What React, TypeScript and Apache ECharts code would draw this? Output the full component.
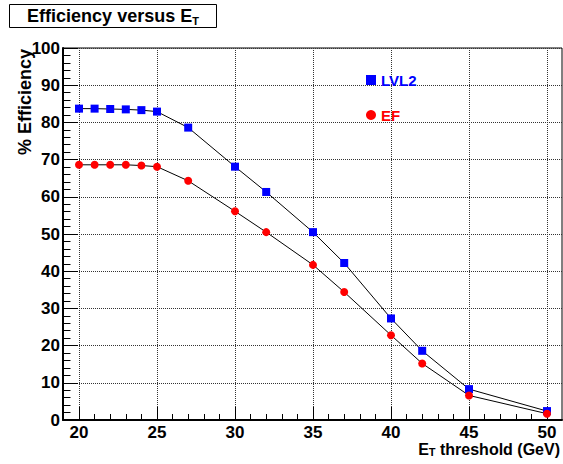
import { useEffect, useRef } from "react";
import * as echarts from "echarts";

// E_T thresholds (GeV) and trigger efficiencies (%) at each level
const thresholds = [20, 21, 22, 23, 24, 25, 27, 30, 32, 35, 37, 40, 42, 45, 50];
const lvl2Efficiency = [83.7, 83.7, 83.6, 83.5, 83.3, 82.9, 78.6, 68.1, 61.3, 50.5, 42.2, 27.3, 18.6, 8.3, 2.4];
const efEfficiency = [68.6, 68.6, 68.6, 68.6, 68.4, 68.1, 64.3, 56.1, 50.5, 41.7, 34.4, 22.8, 15.2, 6.6, 1.7];
const seriesNames = ["LVL2", "EF"];
const titleText = "Efficiency versus E";
const yAxisTitle = "% Efficiency";

const FONT = "'Liberation Sans', Arial, Helvetica, sans-serif";

export default function App() {
  const ref = useRef<HTMLDivElement>(null);

  useEffect(() => {
    if (!ref.current) return;
    const chart = echarts.init(ref.current, null, { renderer: "svg" });
    const dotted = { color: "#333", type: [1, 1], width: 1 };
    const labelStyle = { color: "#000", fontFamily: FONT, fontWeight: "bold", fontSize: 17, lineHeight: 17 };

    chart.setOption({
      animation: false,
      backgroundColor: "#fff",
      textStyle: { fontFamily: FONT },
      grid: [
        // full frame, x from 19 to 51
        { left: 63, right: 1, top: 48, bottom: 44, show: true, borderColor: "#000", borderWidth: 1, backgroundColor: "transparent" },
        // inner grid aligned with x = 20..50 for ticks, labels and data
        { left: 79, right: 16, top: 48, bottom: 44 },
      ],
      xAxis: [
        {
          gridIndex: 0, type: "value", min: 19, max: 51,
          axisLine: { show: true, onZero: false, lineStyle: { color: "#000", width: 2 } },
          axisTick: { show: false }, axisLabel: { show: false }, splitLine: { show: false },
        },
        {
          gridIndex: 1, type: "value", min: 20, max: 50, interval: 5,
          axisLine: { show: false, onZero: false },
          axisTick: { show: true, inside: true, length: 13, lineStyle: { color: "#000", width: 1 } },
          minorTick: { show: true, splitNumber: 5, length: 6, lineStyle: { color: "#000", width: 1 } },
          axisLabel: { ...labelStyle, margin: 4 },
          splitLine: { show: true, lineStyle: dotted },
        },
      ],
      yAxis: [
        {
          gridIndex: 0, type: "value", min: 0, max: 100, interval: 10,
          axisLine: { show: true, lineStyle: { color: "#000", width: 2 } },
          axisTick: { show: true, inside: true, length: 15, lineStyle: { color: "#000", width: 1 } },
          minorTick: { show: true, splitNumber: 5, length: 7.5, lineStyle: { color: "#000", width: 1 } },
          axisLabel: { ...labelStyle, margin: 3 },
          splitLine: { show: true, lineStyle: dotted },
        },
        { gridIndex: 1, type: "value", min: 0, max: 100, show: false },
      ],
      legend: {
        orient: "vertical",
        left: 366,
        top: 72,
        padding: 0,
        itemWidth: 10,
        itemHeight: 10,
        itemGap: 19,
        textStyle: { fontFamily: FONT, fontWeight: "bold", fontSize: 15, lineHeight: 16 },
        data: [
          { name: seriesNames[0], icon: "rect", textStyle: { color: "#0000ff" } },
          { name: seriesNames[1], icon: "circle", textStyle: { color: "#ff0000" } },
        ],
      },
      series: [
        {
          name: seriesNames[0], type: "line", xAxisIndex: 1, yAxisIndex: 1,
          data: thresholds.map((x, i) => [x, lvl2Efficiency[i]]),
          symbol: "rect", symbolSize: 8, clip: false,
          itemStyle: { color: "#0000ff" },
          lineStyle: { color: "#000", width: 1 },
        },
        {
          name: seriesNames[1], type: "line", xAxisIndex: 1, yAxisIndex: 1,
          data: thresholds.map((x, i) => [x, efEfficiency[i]]),
          symbol: "circle", symbolSize: 8, clip: false,
          itemStyle: { color: "#ff0000" },
          lineStyle: { color: "#000", width: 1 },
        },
      ],
      graphic: [
        {
          type: "rect", left: 9, top: 4, z: 10,
          shape: { width: 207, height: 23 },
          style: { fill: "#fff", stroke: "#000", lineWidth: 1 },
        },
        {
          type: "text", x: 113, y: 16, z: 11,
          style: {
            text: `{m|${titleText}}{s|T}`,
            align: "center", verticalAlign: "middle",
            textAlign: "center", textVerticalAlign: "middle",
            rich: {
              m: { fontFamily: FONT, fontWeight: "bold", fontSize: 18, lineHeight: 20, verticalAlign: "middle", fill: "#000" },
              s: { fontFamily: FONT, fontWeight: "bold", fontSize: 11, lineHeight: 8, verticalAlign: "bottom", fill: "#000" },
            },
          },
        },
        {
          type: "text", x: 25, y: 49, rotation: Math.PI / 2,
          style: {
            text: yAxisTitle,
            font: `bold 18px ${FONT}`,
            fill: "#000",
            align: "right", verticalAlign: "middle",
            textAlign: "right", textVerticalAlign: "middle",
          },
        },
        {
          type: "text", x: 560, y: 449,
          style: {
            text: "{m|E}{s|T}{m| threshold (GeV)}",
            align: "right", verticalAlign: "middle",
            textAlign: "right", textVerticalAlign: "middle",
            rich: {
              m: { fontFamily: FONT, fontWeight: "bold", fontSize: 16, lineHeight: 17, verticalAlign: "middle", fill: "#000" },
              s: { fontFamily: FONT, fontWeight: "bold", fontSize: 11, lineHeight: 7, verticalAlign: "bottom", fill: "#000" },
            },
          },
        },
      ],
    });

    return () => chart.dispose();
  }, []);

  return (
    <div
      ref={ref}
      style={{ position: "fixed", left: 0, top: 0, width: 563, height: 464 }}
    />
  );
}
